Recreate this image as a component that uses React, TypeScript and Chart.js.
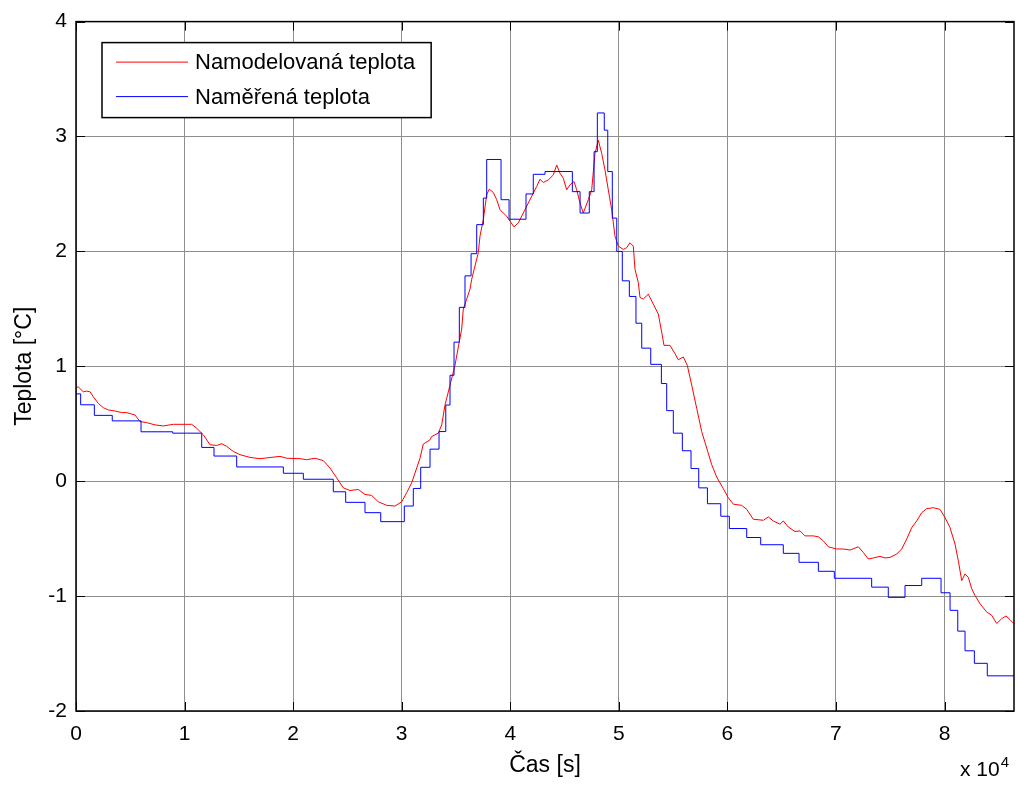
import React, { useEffect, useRef } from "react";
import { Chart, registerables } from "chart.js";

Chart.register(...registerables);

// Modelled temperature: time [s] and temperature [°C]
const MODEL_TIME = [
  0, 212, 672, 986, 1290, 1594, 2054, 2515, 2975, 3592,
  4209, 4670, 5435, 5895, 6512, 7277, 8041, 8962, 10657, 11118,
  11726, 12343, 12960, 13421, 13881, 14489, 15106, 16027, 16948, 18790,
  19408, 20633, 21250, 22015, 22779, 23396, 24013, 24620, 25238, 26003,
  26620, 27237, 27845, 28619, 29383, 30000, 30461, 30921, 31382, 31686,
  31990, 32607, 32763, 33371, 33684, 33989, 34449, 34910, 35214, 35527,
  35675, 35987, 36291, 36448, 36752, 37056, 37213, 37517, 37830, 38070,
  38438, 38751, 39055, 39359, 39672, 39976, 40344, 40740, 41201, 41662,
  42122, 42435, 42739, 43043, 43503, 43964, 44277, 44581, 44885, 45198,
  45502, 45871, 46120, 46423, 46727, 47188, 47501, 47805, 48109, 48422,
  48726, 49030, 49343, 49647, 49951, 50412, 50725, 51029, 51333, 51490,
  51794, 51950, 52254, 52715, 53176, 53636, 53949, 54161, 54714, 55175,
  55478, 55939, 56307, 56713, 57173, 57634, 58095, 58555, 59016, 59624,
  60085, 60545, 61319, 61779, 62387, 63308, 63769, 64229, 64845, 65149,
  65610, 66227, 66688, 67148, 67913, 68374, 68834, 69295, 70069, 70676,
  71294, 72058, 72519, 72980, 73440, 74057, 74518, 74979, 75596, 76056,
  76517, 76977, 77438, 77899, 78359, 78967, 79584, 80045, 80506, 80966,
  81270, 81583, 81887, 82191, 82504, 82808, 83269, 83886, 84346, 84807,
  85268, 85664, 86032, 86400,
];
const MODEL_TEMP = [
  0.813, 0.821, 0.778, 0.784, 0.778, 0.735, 0.677, 0.64, 0.62, 0.611,
  0.597, 0.597, 0.576, 0.519, 0.51, 0.49, 0.481, 0.495, 0.495, 0.461,
  0.404, 0.317, 0.311, 0.326, 0.303, 0.259, 0.231, 0.207, 0.196, 0.216,
  0.2, 0.196, 0.187, 0.2, 0.179, 0.115, 0.029, -0.058, -0.081, -0.072,
  -0.115, -0.124, -0.179, -0.21, -0.216, -0.179, -0.1, -0.014, 0.115, 0.2,
  0.323, 0.36, 0.389, 0.418, 0.49, 0.663, 0.836, 1.009, 1.167, 1.325,
  1.498, 1.585, 1.671, 1.758, 1.873, 1.989, 2.133, 2.277, 2.493, 2.542,
  2.513, 2.45, 2.363, 2.334, 2.306, 2.263, 2.213, 2.248, 2.334, 2.421,
  2.507, 2.565, 2.628, 2.6, 2.622, 2.665, 2.752, 2.68, 2.637, 2.536,
  2.579, 2.608, 2.536, 2.421, 2.334, 2.45, 2.536, 2.853, 2.968, 2.853,
  2.709, 2.536, 2.363, 2.133, 2.046, 2.017, 2.032, 2.075, 2.046, 1.844,
  1.729, 1.599, 1.585, 1.628, 1.541, 1.455, 1.297, 1.182, 1.182, 1.109,
  1.057, 1.081, 1.009, 0.836, 0.634, 0.432, 0.288, 0.144, 0.036, -0.065,
  -0.144, -0.2, -0.21, -0.245, -0.331, -0.34, -0.311, -0.346, -0.374, -0.346,
  -0.398, -0.438, -0.432, -0.476, -0.476, -0.484, -0.519, -0.571, -0.59, -0.59,
  -0.599, -0.571, -0.62, -0.677, -0.668, -0.654, -0.668, -0.663, -0.634, -0.59,
  -0.504, -0.404, -0.346, -0.274, -0.239, -0.231, -0.245, -0.317, -0.404, -0.547,
  -0.692, -0.865, -0.807, -0.836, -0.936, -0.994, -1.066, -1.139, -1.167, -1.239,
  -1.196, -1.173, -1.205, -1.24,
];

// Measured temperature (sampled, held between readings): time [s] and temperature [°C]
const MEASURED_TIME = [
  0, 430, 1690, 3340, 5990, 8910, 11580, 12710, 14800, 19100,
  20940, 23700, 24840, 26620, 28070, 30240, 31070, 31750, 32610, 33440,
  34060, 34450, 34820, 35310, 35830, 36390, 36910, 37520, 37830, 39150,
  39890, 41450, 42120, 43200, 45720, 46430, 47280, 47720, 48020, 48660,
  48980, 49400, 49810, 50320, 50970, 51580, 52110, 52940, 53920, 54410,
  55020, 55850, 56650, 57360, 58160, 59390, 60180, 61780, 63070, 65150,
  66600, 68380, 69850, 73290, 74820, 76360, 77900, 79680, 80510, 81220,
  81890, 82750, 83940, 86400,
];
const MEASURED_TEMP = [
  0.76, 0.665, 0.573, 0.525, 0.43, 0.418, 0.294, 0.219, 0.124, 0.069,
  0.017, -0.092, -0.184, -0.274, -0.352, -0.216, -0.063, 0.121, 0.279, 0.432,
  0.663, 0.922, 1.21, 1.513, 1.787, 1.98, 2.233, 2.464, 2.8, 2.45,
  2.28, 2.5, 2.671, 2.695, 2.52, 2.334, 2.52, 2.868, 3.205, 3.055,
  2.695, 2.29, 2.0, 1.744, 1.608, 1.375, 1.158, 1.017, 0.85, 0.614,
  0.418, 0.265, 0.11, -0.058, -0.196, -0.305, -0.412, -0.49, -0.553, -0.628,
  -0.706, -0.784, -0.845, -0.922, -1.011, -0.908, -0.845, -0.971, -1.124, -1.305,
  -1.476, -1.585, -1.694, -1.694,
];

const SERIES_LABELS = ["Namodelovaná teplota", "Naměřená teplota"];
const X_TICKS = [0, 10000, 20000, 30000, 40000, 50000, 60000, 70000, 80000];
const Y_TICKS = [-2, -1, 0, 1, 2, 3, 4];
const X_TITLE = "Čas [s]";
const Y_TITLE = "Teplota [°C]";
const X_EXPONENT = "4";

const FONT = "'Liberation Sans', Arial, Helvetica, sans-serif";

// Axes box with inward tick marks on all four sides, axis titles and exponent note
const framePlugin = {
  id: "frame",
  afterDatasetsDraw(chart: any) {
    const { ctx, chartArea } = chart;
    const { left, right, top, bottom } = chartArea;
    const xs = chart.scales.x;
    const ys = chart.scales.y;
    const tick = 9;
    ctx.save();
    ctx.strokeStyle = "#000";
    ctx.lineWidth = 1;
    ctx.beginPath();
    xs.ticks.forEach((t: any) => {
      const px = Math.round(xs.getPixelForValue(t.value)) + 0.5;
      ctx.moveTo(px, bottom);
      ctx.lineTo(px, bottom - tick);
      ctx.moveTo(px, top);
      ctx.lineTo(px, top + tick);
    });
    ys.ticks.forEach((t: any) => {
      const py = Math.round(ys.getPixelForValue(t.value)) + 0.5;
      ctx.moveTo(left, py);
      ctx.lineTo(left + tick, py);
      ctx.moveTo(right, py);
      ctx.lineTo(right - tick, py);
    });
    ctx.stroke();
    ctx.lineWidth = 1.5;
    ctx.strokeRect(left, top, right - left, bottom - top);

    // axis titles
    ctx.fillStyle = "#000";
    ctx.font = `23px ${FONT}`;
    ctx.textAlign = "center";
    ctx.textBaseline = "alphabetic";
    ctx.fillText(X_TITLE, (left + right) / 2, 772);
    ctx.save();
    ctx.translate(31, (top + bottom) / 2);
    ctx.rotate(-Math.PI / 2);
    ctx.fillText(Y_TITLE, 0, 0);
    ctx.restore();

    // exponent of the x axis
    ctx.font = `21px ${FONT}`;
    ctx.textAlign = "left";
    const base = "x 10";
    ctx.fillText(base, 960, 776);
    const bw = ctx.measureText(base).width;
    ctx.font = `15px ${FONT}`;
    ctx.fillText(X_EXPONENT, 960 + bw + 1, 767);
    ctx.restore();
  },
};

// Legend box in the upper left corner of the axes
const legendPlugin = {
  id: "boxLegend",
  afterDraw(chart: any) {
    const { ctx, chartArea } = chart;
    const datasets = chart.data.datasets;
    ctx.save();
    ctx.font = `22px ${FONT}`;
    const textW = Math.max(...datasets.map((d: any) => ctx.measureText(d.label).width));
    const x0 = chartArea.left + 26;
    const y0 = chartArea.top + 21;
    const w = 93 + textW + 16;
    const h = 75;
    ctx.fillStyle = "#fff";
    ctx.fillRect(x0, y0, w, h);
    ctx.strokeStyle = "#000";
    ctx.lineWidth = 1.5;
    ctx.strokeRect(x0, y0, w, h);
    datasets.forEach((d: any, i: number) => {
      const ly = y0 + 19.5 + i * 34.5;
      ctx.strokeStyle = d.borderColor;
      ctx.lineWidth = 1;
      ctx.beginPath();
      ctx.moveTo(x0 + 14, ly);
      ctx.lineTo(x0 + 86, ly);
      ctx.stroke();
      ctx.fillStyle = "#000";
      ctx.textAlign = "left";
      ctx.textBaseline = "middle";
      ctx.fillText(d.label, x0 + 93, ly + 1);
    });
    ctx.restore();
  },
};

export default function App() {
  const canvasRef = useRef<HTMLCanvasElement | null>(null);

  useEffect(() => {
    const canvas = canvasRef.current;
    if (!canvas) return;
    const modelPoints = MODEL_TIME.map((t, i) => ({ x: t, y: MODEL_TEMP[i] }));
    const measuredPoints = MEASURED_TIME.map((t, i) => ({ x: t, y: MEASURED_TEMP[i] }));

    const chart = new Chart(canvas, {
      type: "line",
      data: {
        datasets: [
          {
            label: SERIES_LABELS[0],
            data: modelPoints,
            borderColor: "rgb(255,0,0)",
            backgroundColor: "rgb(255,0,0)",
            borderWidth: 1,
            pointRadius: 0,
            tension: 0,
            order: 2,
          },
          {
            label: SERIES_LABELS[1],
            data: measuredPoints,
            borderColor: "rgb(0,0,255)",
            backgroundColor: "rgb(0,0,255)",
            borderWidth: 1,
            pointRadius: 0,
            stepped: "before",
            order: 1,
          },
        ],
      },
      options: {
        animation: false,
        responsive: false,
        maintainAspectRatio: false,
        devicePixelRatio: 1,
        layout: { padding: { left: 0, top: 17, right: 5, bottom: 0 } },
        plugins: {
          legend: { display: false },
          tooltip: { enabled: false },
        },
        scales: {
          x: {
            type: "linear",
            min: 0,
            max: 86400,
            afterBuildTicks: (s: any) => {
              s.ticks = X_TICKS.map((v) => ({ value: v }));
            },
            afterFit: (s: any) => {
              s.height = 76;
            },
            grid: { color: "#8e8e8e", lineWidth: 1, drawTicks: false },
            border: { display: false },
            ticks: {
              autoSkip: false,
              maxRotation: 0,
              padding: 11,
              color: "#000",
              font: { family: FONT, size: 21 },
              callback: (v: any) => String(Number(v) / 10000),
            },
          },
          y: {
            type: "linear",
            min: -2,
            max: 4,
            afterBuildTicks: (s: any) => {
              s.ticks = Y_TICKS.map((v) => ({ value: v }));
            },
            afterFit: (s: any) => {
              s.width = 76;
            },
            grid: { color: "#8e8e8e", lineWidth: 1, drawTicks: false },
            border: { display: false },
            ticks: {
              autoSkip: false,
              padding: 9,
              color: "#000",
              font: { family: FONT, size: 21 },
              callback: (v: any) => String(v),
            },
          },
        },
      },
      plugins: [framePlugin, legendPlugin],
    });
    return () => chart.destroy();
  }, []);

  return (
    <div style={{ position: "absolute", left: 0, top: 0, width: 1019, height: 787, background: "#fff" }}>
      <canvas ref={canvasRef} width={1019} height={787} style={{ display: "block", width: 1019, height: 787 }} />
    </div>
  );
}
